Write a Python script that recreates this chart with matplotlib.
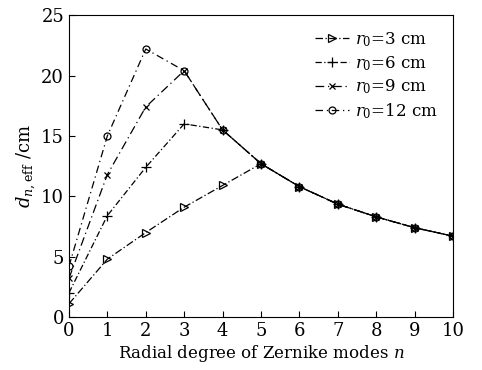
import numpy as np
import matplotlib
matplotlib.use('Agg')
import matplotlib.pyplot as plt

plt.rcParams['font.family'] = 'DejaVu Serif'
plt.rcParams['mathtext.fontset'] = 'dejavuserif'

n = np.arange(0, 11)
d_r3 = [1.1, 4.8, 7.0, 9.1, 10.9, 12.7, 10.8, 9.35, 8.3, 7.4, 6.7]
d_r6 = [2.0, 8.4, 12.4, 16.0, 15.5, 12.7, 10.8, 9.35, 8.3, 7.4, 6.7]
d_r9 = [3.2, 11.8, 17.4, 20.4, 15.5, 12.7, 10.8, 9.35, 8.3, 7.4, 6.7]
d_r12 = [4.2, 15.0, 22.2, 20.4, 15.5, 12.7, 10.8, 9.35, 8.3, 7.4, 6.7]
etiquetas = [r'$r_0$=3 cm', r'$r_0$=6 cm', r'$r_0$=9 cm', r'$r_0$=12 cm']

fig = plt.figure(figsize=(4.82, 3.70), dpi=100)
ax = fig.add_axes([0.143, 0.143, 0.797, 0.816])

estilo = dict(color='black', linewidth=0.9, markerfacecolor='none', markeredgewidth=0.9)
ax.plot(n, d_r3, linestyle=(0, (6, 2, 1, 2)), marker='>', markersize=6, label=etiquetas[0], **estilo)
ax.plot(n, d_r6, linestyle=(0, (5, 2, 1, 2)), marker='+', markersize=6.5, label=etiquetas[1], **estilo)
ax.plot(n, d_r9, linestyle=(0, (7, 3, 1, 3)), marker='x', markersize=4, label=etiquetas[2], **estilo)
ax.plot(n, d_r12, linestyle=(0, (6, 3, 1, 3)), marker='o', markersize=5, label=etiquetas[3], **estilo)

ax.set_xlim(0, 10)
ax.set_ylim(0, 25)
ax.set_xticks(range(0, 11))
ax.set_yticks(range(0, 26, 5))
ax.tick_params(direction='in', labelsize=13, length=4)
ax.set_xlabel(r'Radial degree of Zernike modes $n$', fontsize=12, labelpad=2)
ax.set_ylabel(r'$d_{n,\mathrm{eff}}$ /cm', fontsize=13, labelpad=2)

ax.legend(loc='upper right', frameon=False, fontsize=12, handlelength=2.0,
          labelspacing=0.3, handletextpad=0.4, borderaxespad=0.5)

plt.savefig('out.png', dpi=100)
